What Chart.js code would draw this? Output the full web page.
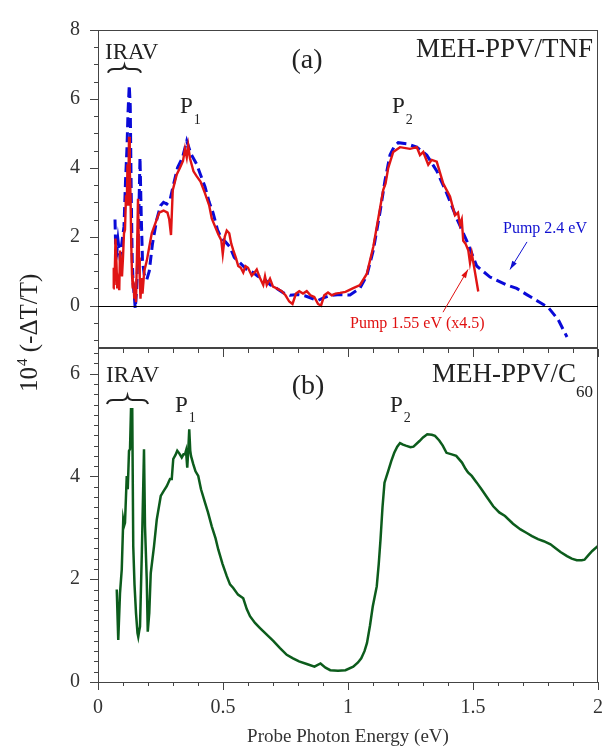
<!DOCTYPE html>
<html>
<head>
<meta charset="utf-8">
<title>Photoinduced absorption spectra</title>
<script src="https://cdn.jsdelivr.net/npm/chart.js@4.4.1/dist/chart.umd.min.js"></script>
<style>
  html, body { margin: 0; padding: 0; background: #fff; }
  #wrap { position: relative; width: 609px; height: 752px; }
  #wrap canvas { position: absolute; left: 0; top: 0; }
</style>
</head>
<body>
<div id="wrap">
  <canvas id="panelB" width="609" height="752"></canvas>
  <canvas id="panelA" width="609" height="752"></canvas>
</div>
<script>
/* ---- data ---- */

// (a) MEH-PPV/TNF, pump 2.4 eV (blue dashed)
const blueEnergy = [0.068, 0.072, 0.080, 0.088, 0.095, 0.104, 0.110, 0.116, 0.120, 0.125, 0.129, 0.133, 0.137, 0.141, 0.145, 0.149, 0.155, 0.162, 0.168, 0.173, 0.178, 0.185, 0.195, 0.205, 0.218, 0.235, 0.250, 0.262, 0.275, 0.288, 0.300, 0.318, 0.338, 0.355, 0.372, 0.395, 0.410, 0.428, 0.445, 0.460, 0.478, 0.494, 0.510, 0.528, 0.545, 0.568, 0.595, 0.621, 0.640, 0.661, 0.690, 0.715, 0.740, 0.768, 0.800, 0.830, 0.860, 0.880, 0.900, 0.930, 0.968, 1.008, 1.048, 1.075, 1.101, 1.128, 1.148, 1.168, 1.185, 1.201, 1.235, 1.275, 1.315, 1.355, 1.395, 1.435, 1.475, 1.515, 1.568, 1.635, 1.675, 1.715, 1.768, 1.801, 1.841, 1.876];
const blueSignal = [2.5, 1.3, 1.9, 1.4, 1.8, 2.3, 3.6, 4.6, 5.6, 6.4, 5.8, 3.2, 1.3, 0.6, 0.3, -0.08, 0.5, 2.2, 4.3, 2.6, 1.3, 0.9, 0.75, 1.0, 1.8, 2.5, 2.9, 3.0, 2.95, 3.07, 3.45, 4.0, 4.3, 4.78, 4.4, 4.1, 3.8, 3.45, 3.0, 2.7, 2.2, 1.95, 1.85, 1.7, 1.4, 1.24, 1.05, 0.96, 0.85, 0.8, 0.6, 0.5, 0.38, 0.3, 0.32, 0.28, 0.2, 0.15, 0.22, 0.3, 0.32, 0.31, 0.51, 0.87, 1.6, 2.71, 3.63, 4.37, 4.62, 4.73, 4.70, 4.6, 4.37, 3.91, 3.26, 2.53, 1.88, 1.15, 0.83, 0.6, 0.5, 0.32, 0.09, -0.05, -0.41, -0.91];

// (a) MEH-PPV/TNF, pump 1.55 eV x4.5 (red)
const redEnergy = [0.061, 0.063, 0.066, 0.070, 0.074, 0.077, 0.081, 0.085, 0.088, 0.092, 0.096, 0.100, 0.104, 0.108, 0.112, 0.115, 0.118, 0.121, 0.124, 0.127, 0.130, 0.133, 0.136, 0.139, 0.142, 0.145, 0.148, 0.152, 0.156, 0.160, 0.164, 0.167, 0.170, 0.174, 0.178, 0.185, 0.195, 0.205, 0.215, 0.230, 0.245, 0.262, 0.278, 0.285, 0.292, 0.299, 0.315, 0.328, 0.340, 0.348, 0.355, 0.361, 0.368, 0.382, 0.395, 0.410, 0.428, 0.445, 0.455, 0.468, 0.481, 0.493, 0.499, 0.507, 0.515, 0.525, 0.533, 0.541, 0.551, 0.561, 0.571, 0.581, 0.590, 0.600, 0.615, 0.625, 0.635, 0.648, 0.661, 0.668, 0.675, 0.688, 0.700, 0.715, 0.735, 0.750, 0.765, 0.778, 0.792, 0.805, 0.820, 0.835, 0.850, 0.865, 0.880, 0.892, 0.905, 0.920, 0.935, 0.950, 0.968, 0.990, 1.021, 1.048, 1.075, 1.101, 1.121, 1.141, 1.150, 1.161, 1.181, 1.208, 1.248, 1.275, 1.288, 1.301, 1.321, 1.335, 1.355, 1.381, 1.408, 1.428, 1.440, 1.448, 1.455, 1.461, 1.470, 1.481, 1.488, 1.495, 1.508, 1.521];
const redSignal = [0.5, 1.1, 0.6, 1.95, 1.2, 0.5, 0.7, 0.45, 1.6, 1.2, 0.85, 1.4, 2.1, 2.2, 3.2, 2.9, 4.1, 2.9, 4.9, 4.0, 3.2, 1.8, 0.9, 0.5, 0.7, 0.2, 0.5, 0.1, 1.5, 3.1, 1.4, 0.8, 0.2, 0.8, 0.35, 1.0, 1.3, 1.7, 2.1, 2.4, 2.7, 2.76, 2.7, 2.5, 2.05, 3.35, 3.81, 4.0, 4.2, 4.55, 4.3, 4.64, 4.27, 3.9, 3.75, 3.6, 3.26, 2.9, 2.53, 2.3, 2.07, 1.9, 1.5, 2.0, 2.18, 2.1, 1.8, 1.61, 1.4, 1.15, 1.1, 0.96, 1.15, 1.1, 0.87, 0.95, 1.05, 0.8, 0.6, 0.85, 0.6, 0.78, 0.55, 0.5, 0.42, 0.3, 0.12, 0.05, 0.35, 0.42, 0.35, 0.42, 0.3, 0.25, 0.05, 0.0, 0.3, 0.38, 0.3, 0.35, 0.37, 0.4, 0.51, 0.6, 0.92, 1.7, 2.53, 3.36, 3.54, 4.0, 4.46, 4.6, 4.55, 4.6, 4.37, 4.46, 4.09, 4.23, 4.18, 3.54, 3.17, 2.62, 2.7, 2.35, 2.5, 1.88, 1.8, 1.61, 1.24, 1.52, 0.97, 0.41];

// (b) MEH-PPV/C60 (green)
const greenEnergy = [0.075, 0.081, 0.088, 0.095, 0.101, 0.105, 0.108, 0.115, 0.119, 0.124, 0.128, 0.132, 0.137, 0.141, 0.146, 0.152, 0.158, 0.161, 0.165, 0.168, 0.175, 0.180, 0.184, 0.188, 0.195, 0.199, 0.205, 0.211, 0.224, 0.235, 0.251, 0.263, 0.275, 0.288, 0.295, 0.301, 0.310, 0.317, 0.325, 0.335, 0.342, 0.348, 0.352, 0.357, 0.362, 0.365, 0.369, 0.372, 0.381, 0.390, 0.401, 0.412, 0.428, 0.440, 0.455, 0.470, 0.481, 0.498, 0.515, 0.528, 0.541, 0.560, 0.581, 0.595, 0.608, 0.628, 0.648, 0.675, 0.701, 0.728, 0.755, 0.780, 0.804, 0.835, 0.866, 0.890, 0.910, 0.929, 0.960, 0.990, 1.021, 1.040, 1.053, 1.066, 1.076, 1.088, 1.099, 1.115, 1.123, 1.130, 1.138, 1.146, 1.161, 1.173, 1.185, 1.197, 1.208, 1.220, 1.231, 1.250, 1.262, 1.286, 1.300, 1.317, 1.335, 1.348, 1.365, 1.379, 1.394, 1.415, 1.433, 1.456, 1.470, 1.480, 1.495, 1.515, 1.534, 1.558, 1.581, 1.605, 1.628, 1.660, 1.690, 1.715, 1.736, 1.760, 1.783, 1.810, 1.829, 1.850, 1.876, 1.895, 1.915, 1.935, 1.946, 1.960, 1.977, 2.000];
const greenSignal = [1.8, 0.82, 1.73, 2.19, 3.16, 3.05, 3.1, 4.01, 3.75, 4.5, 4.53, 5.31, 5.31, 2.64, 1.9, 1.34, 0.95, 0.88, 1.0, 1.08, 2.45, 3.6, 4.53, 3.03, 1.99, 0.98, 1.34, 2.12, 2.64, 3.16, 3.62, 3.72, 3.81, 3.95, 3.95, 4.34, 4.42, 4.5, 4.45, 4.37, 4.43, 4.43, 4.5, 4.17, 4.6, 4.92, 4.5, 4.4, 4.24, 4.1, 4.01, 3.75, 3.49, 3.3, 3.03, 2.8, 2.58, 2.3, 2.06, 1.9, 1.83, 1.7, 1.63, 1.42, 1.28, 1.15, 1.05, 0.92, 0.8, 0.66, 0.53, 0.46, 0.40, 0.35, 0.30, 0.36, 0.28, 0.23, 0.22, 0.23, 0.30, 0.38, 0.46, 0.6, 0.76, 1.1, 1.47, 1.86, 2.3, 2.77, 3.4, 3.88, 4.11, 4.3, 4.46, 4.58, 4.65, 4.62, 4.6, 4.57, 4.58, 4.69, 4.76, 4.82, 4.81, 4.79, 4.7, 4.6, 4.46, 4.43, 4.4, 4.27, 4.15, 4.08, 4.01, 3.88, 3.75, 3.58, 3.42, 3.3, 3.23, 3.08, 2.97, 2.9, 2.84, 2.78, 2.74, 2.68, 2.61, 2.53, 2.45, 2.4, 2.37, 2.37, 2.38, 2.46, 2.55, 2.65];

// axis ticks
const xTickValues = [0, 0.5, 1, 1.5, 2];
const xTickLabels = ['0', '0.5', '1', '1.5', '2'];
const yTicksA = [0, 2, 4, 6, 8];
const yTicksB = [0, 2, 4, 6];

/* ---- shared helpers ---- */
const SERIF = '"Liberation Serif", "DejaVu Serif", serif';
const INK = '#222';
const AXIS = '#444';

function pts(xs, ys) {
  return xs.map((x, i) => ({ x: x, y: ys[i] }));
}

function at(chart, x, y) {
  return [chart.scales.x.getPixelForValue(x), chart.scales.y.getPixelForValue(y)];
}

function text(ctx, str, x, y, size, color, align) {
  ctx.font = size + 'px ' + SERIF;
  ctx.fillStyle = color || INK;
  ctx.textAlign = align || 'left';
  ctx.textBaseline = 'alphabetic';
  ctx.fillText(str, x, y);
  return ctx.measureText(str).width;
}

// letter with a lowered index, e.g. P_1
function subText(ctx, main, sub, x, y, size, subSize, drop) {
  const w = text(ctx, main, x, y, size);
  text(ctx, sub, x + w + 1, y + drop, subSize);
}

function brace(ctx, x1, x2, yTop, yBot) {
  const xm = (x1 + x2) / 2;
  const yc = (yTop + yBot) / 2;
  ctx.save();
  ctx.strokeStyle = INK;
  ctx.lineWidth = 2;
  ctx.beginPath();
  ctx.moveTo(x1, yBot);
  ctx.quadraticCurveTo(x1 + 1, yc, x1 + 6, yc);
  ctx.lineTo(xm - 5, yc);
  ctx.quadraticCurveTo(xm - 1, yc, xm, yTop);
  ctx.quadraticCurveTo(xm + 1, yc, xm + 5, yc);
  ctx.lineTo(x2 - 6, yc);
  ctx.quadraticCurveTo(x2 - 1, yc, x2, yBot);
  ctx.stroke();
  ctx.restore();
}

function arrow(ctx, from, to, color) {
  const ang = Math.atan2(to[1] - from[1], to[0] - from[0]);
  ctx.save();
  ctx.strokeStyle = color;
  ctx.fillStyle = color;
  ctx.lineWidth = 1;
  ctx.beginPath();
  ctx.moveTo(from[0], from[1]);
  ctx.lineTo(to[0], to[1]);
  ctx.stroke();
  ctx.beginPath();
  ctx.moveTo(to[0], to[1]);
  ctx.lineTo(to[0] - 9 * Math.cos(ang - 0.3), to[1] - 9 * Math.sin(ang - 0.3));
  ctx.lineTo(to[0] - 9 * Math.cos(ang + 0.3), to[1] - 9 * Math.sin(ang + 0.3));
  ctx.closePath();
  ctx.fill();
  ctx.restore();
}

function frame(chart) {
  const { ctx, chartArea: a } = chart;
  ctx.save();
  ctx.strokeStyle = AXIS;
  ctx.lineWidth = 1;
  ctx.strokeRect(a.left + 0.5, a.top + 0.5, a.right - a.left - 1, a.bottom - a.top);
  ctx.restore();
}

// left axis tick marks (pointing out), long on multiples of majorEvery
function yTicks(chart, from, to, step, majorEvery) {
  const { ctx, chartArea: a } = chart;
  const s = chart.scales.y;
  ctx.save();
  ctx.strokeStyle = AXIS;
  ctx.lineWidth = 1;
  const n = Math.round((to - from) / step);
  for (let i = 0; i <= n; i++) {
    const v = from + i * step;
    const major = Math.abs(v / majorEvery - Math.round(v / majorEvery)) < 1e-6;
    const y = Math.round(s.getPixelForValue(v)) + 0.5;
    ctx.beginPath();
    ctx.moveTo(a.left - (major ? 8 : 4), y);
    ctx.lineTo(a.left, y);
    ctx.stroke();
  }
  ctx.restore();
}

// energy tick marks every 0.1 eV, long every 0.5 eV
function xTicks(chart, yEdge, dir) {
  const { ctx } = chart;
  const s = chart.scales.x;
  ctx.save();
  ctx.strokeStyle = AXIS;
  ctx.lineWidth = 1;
  for (let i = 0; i <= 20; i++) {
    const v = i / 10;
    const x = Math.round(s.getPixelForValue(v)) + 0.5;
    const len = i % 5 === 0 ? 8 : 4;
    ctx.beginPath();
    ctx.moveTo(x, yEdge);
    ctx.lineTo(x, yEdge + dir * len);
    ctx.stroke();
  }
  ctx.restore();
}

/* ---- panel (a) decorations ---- */
const decorA = {
  id: 'decorA',
  afterDraw(chart) {
    const ctx = chart.ctx;
    const a = chart.chartArea;
    frame(chart);
    yTicks(chart, -1, 8, 0.5, 2);

    // zero line
    const y0 = Math.round(chart.scales.y.getPixelForValue(0)) + 0.5;
    ctx.save();
    ctx.strokeStyle = '#000';
    ctx.lineWidth = 1;
    ctx.beginPath();
    ctx.moveTo(a.left, y0);
    ctx.lineTo(a.right, y0);
    ctx.stroke();
    ctx.restore();

    let p = at(chart, 0.028, 7.17);
    text(ctx, 'IRAV', p[0], p[1], 23);
    const b1 = at(chart, 0.04, 6.98), b2 = at(chart, 0.172, 6.76);
    brace(ctx, b1[0], b2[0], b1[1], b2[1]);

    p = at(chart, 0.836, 6.9);
    text(ctx, '(a)', p[0], p[1], 28, INK, 'center');

    p = at(chart, 1.98, 7.23);
    text(ctx, 'MEH-PPV/TNF', p[0], p[1], 27, INK, 'right');

    p = at(chart, 0.328, 5.6);
    subText(ctx, 'P', '1', p[0], p[1], 23, 14, 11);
    p = at(chart, 1.176, 5.6);
    subText(ctx, 'P', '2', p[0], p[1], 23, 14, 11);

    p = at(chart, 1.62, 2.12);
    text(ctx, 'Pump 2.4 eV', p[0], p[1], 16, '#1010d0');
    arrow(ctx, at(chart, 1.716, 1.85), at(chart, 1.648, 1.05), '#1010d0');

    p = at(chart, 1.008, -0.66);
    text(ctx, 'Pump 1.55 eV (x4.5)', p[0], p[1], 16, '#e01010');
    arrow(ctx, at(chart, 1.38, -0.19), at(chart, 1.48, 1.05), '#e01010');
  }
};

/* ---- panel (b) decorations + shared y title ---- */
const decorB = {
  id: 'decorB',
  afterDraw(chart) {
    const ctx = chart.ctx;
    const a = chart.chartArea;
    frame(chart);
    yTicks(chart, 0, 6.4, 0.2, 2);
    xTicks(chart, a.top + 1, 1);
    xTicks(chart, a.bottom, 1);

    let p = at(chart, 0.032, 5.84);
    text(ctx, 'IRAV', p[0], p[1], 23);
    const b1 = at(chart, 0.036, 5.57), b2 = at(chart, 0.2, 5.41);
    brace(ctx, b1[0], b2[0], b1[1], b2[1]);

    p = at(chart, 0.84, 5.6);
    text(ctx, '(b)', p[0], p[1], 28, INK, 'center');

    // MEH-PPV/C60 with subscript, right edge near the frame
    p = at(chart, 1.98, 5.84);
    ctx.font = '17px ' + SERIF;
    const wSub = ctx.measureText('60').width;
    text(ctx, 'MEH-PPV/C', p[0] - wSub, p[1], 27, INK, 'right');
    text(ctx, '60', p[0] - wSub, p[1] + 15, 17);

    p = at(chart, 0.308, 5.25);
    subText(ctx, 'P', '1', p[0], p[1], 23, 14, 10);
    p = at(chart, 1.168, 5.25);
    subText(ctx, 'P', '2', p[0], p[1], 23, 14, 10);

    // rotated y title spanning both panels
    ctx.save();
    ctx.translate(37, 392);
    ctx.rotate(-Math.PI / 2);
    const w = text(ctx, '10', 0, 0, 25);
    const w4 = text(ctx, '4', w + 1, -10, 15);
    text(ctx, ' (-\u0394T/T)', w + w4 + 1, 0, 25);
    ctx.restore();
  }
};

/* ---- chart (a) ---- */
new Chart(document.getElementById('panelA'), {
  type: 'line',
  data: {
    datasets: [
      {
        label: 'Pump 2.4 eV',
        data: pts(blueEnergy, blueSignal),
        borderColor: '#0a0ad8',
        borderWidth: 3,
        borderDash: [10, 5],
        pointRadius: 0,
        tension: 0,
        order: 1
      },
      {
        label: 'Pump 1.55 eV (x4.5)',
        data: pts(redEnergy, redSignal),
        borderColor: '#e01414',
        borderWidth: 2.4,
        pointRadius: 0,
        tension: 0,
        order: 0
      }
    ]
  },
  options: {
    responsive: false,
    animation: false,
    devicePixelRatio: 1,
    layout: { padding: { top: 15, right: 11, bottom: 405, left: 0 } },
    scales: {
      x: { type: 'linear', min: 0, max: 2, display: false },
      y: {
        type: 'linear',
        min: -1.2,
        max: 8,
        afterBuildTicks: (axis) => { axis.ticks = yTicksA.map(v => ({ value: v })); },
        afterFit: (s) => { s.width = 98; },
        grid: { display: false, drawTicks: false },
        border: { display: false },
        ticks: {
          padding: 18,
          color: '#333',
          font: { family: SERIF, size: 20 },
          callback: (v) => String(v)
        }
      }
    },
    plugins: { legend: { display: false }, tooltip: { enabled: false } }
  },
  plugins: [decorA]
});

/* ---- chart (b) ---- */
new Chart(document.getElementById('panelB'), {
  type: 'line',
  data: {
    datasets: [
      {
        label: 'MEH-PPV/C60',
        data: pts(greenEnergy, greenSignal),
        borderColor: '#0c5c1c',
        borderWidth: 2.5,
        pointRadius: 0,
        tension: 0
      }
    ]
  },
  options: {
    responsive: false,
    animation: false,
    devicePixelRatio: 1,
    layout: { padding: { top: 348, right: 11, bottom: 0, left: 0 } },
    scales: {
      x: {
        type: 'linear',
        min: 0,
        max: 2,
        afterBuildTicks: (axis) => { axis.ticks = xTickValues.map(v => ({ value: v })); },
        afterFit: (s) => {
          s.height = 70;
          // keep the plot edges lined up with panel (a)
          s.paddingLeft = 0;
          s.paddingRight = 0;
        },
        grid: { display: false, drawTicks: false },
        border: { display: false },
        ticks: {
          padding: 14,
          color: '#333',
          maxRotation: 0,
          autoSkip: false,
          font: { family: SERIF, size: 20 },
          callback: (v) => xTickLabels[xTickValues.indexOf(v)]
        },
        title: {
          display: true,
          text: 'Probe Photon Energy (eV)',
          color: '#333',
          font: { family: SERIF, size: 19 },
          padding: { top: 0, bottom: 4 }
        }
      },
      y: {
        type: 'linear',
        min: 0,
        max: 6.5,
        afterBuildTicks: (axis) => { axis.ticks = yTicksB.map(v => ({ value: v })); },
        afterFit: (s) => { s.width = 98; },
        grid: { display: false, drawTicks: false },
        border: { display: false },
        ticks: {
          padding: 18,
          color: '#333',
          font: { family: SERIF, size: 20 },
          callback: (v) => String(v)
        }
      }
    },
    plugins: { legend: { display: false }, tooltip: { enabled: false } }
  },
  plugins: [decorB]
});
</script>
</body>
</html>
